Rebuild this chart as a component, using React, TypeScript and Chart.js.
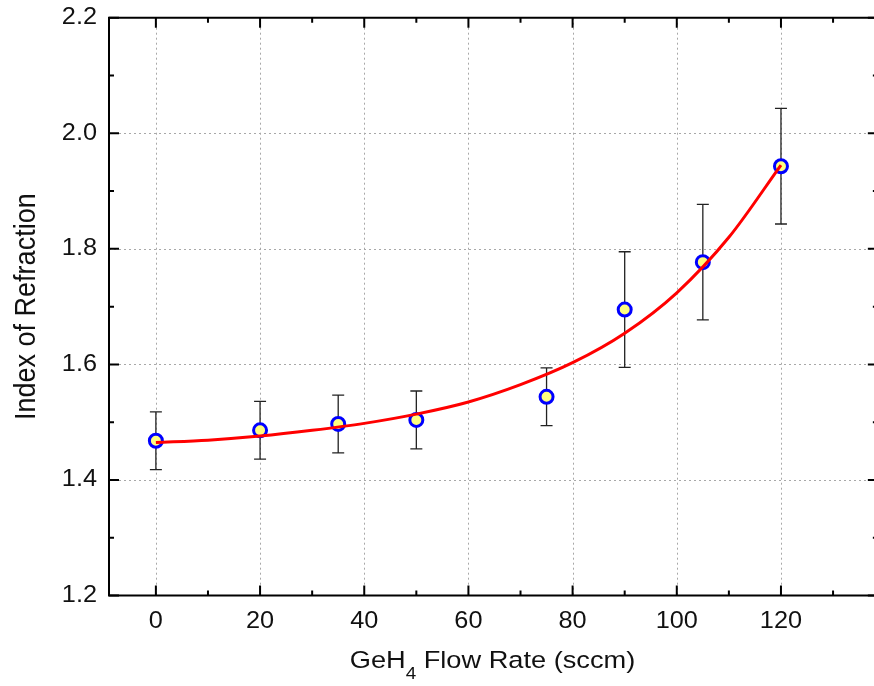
import React, { useEffect, useRef } from "react";
import { Chart, registerables } from "chart.js";
Chart.register(...registerables);

// Measured points (GeH4 flow in sccm vs refractive index) with error bars
const FLOW = [0, 20, 35, 50, 75, 90, 105, 120];
const INDEX = [1.468, 1.486, 1.497, 1.504, 1.544, 1.695, 1.777, 1.943];
const ERR = [0.05, 0.05, 0.05, 0.05, 0.05, 0.1, 0.1, 0.1];

// Fitted curve
const FIT_X = [0, 10, 20, 30, 40, 50, 60, 70, 80, 90, 100, 110, 120];
const FIT_Y = [1.465, 1.469, 1.476, 1.486, 1.498, 1.514, 1.535, 1.565, 1.603, 1.654, 1.724, 1.82, 1.945];

const X_TICKS = [0, 20, 40, 60, 80, 100, 120];
const X_MINOR = [10, 30, 50, 70, 90, 110, 130];
const Y_TICKS = [1.2, 1.4, 1.6, 1.8, 2.0, 2.2];
const Y_MINOR = [1.3, 1.5, 1.7, 1.9, 2.1];

const X_MIN = -9;
const X_MAX = 137.86;
const X_FRAME_RIGHT = 138.6;
const Y_MIN = 1.2;
const Y_MAX = 2.2;

const X_TITLE_MAIN = "GeH";
const X_TITLE_SUB = "4";
const X_TITLE_REST = " Flow Rate (sccm)";
const Y_TITLE = "Index of Refraction";

const FONT = "'Liberation Sans', Arial, Helvetica, sans-serif";
const STRETCH = 1.1;

const framePlugin = {
  id: "frame",
  beforeDatasetsDraw(chart: any) {
    const { ctx, chartArea: a, scales } = chart;
    const xs = scales.x;
    const ys = scales.y;
    ctx.save();
    // dotted grid
    ctx.strokeStyle = "#a8a8a8";
    ctx.lineWidth = 1;
    ctx.setLineDash([2, 3]);
    for (const v of X_TICKS) {
      const px = Math.round(xs.getPixelForValue(v)) + 0.5;
      ctx.beginPath();
      ctx.moveTo(px, a.top);
      ctx.lineTo(px, a.bottom);
      ctx.stroke();
    }
    for (const v of Y_TICKS) {
      if (v === Y_MIN || v === Y_MAX) continue;
      const py = Math.round(ys.getPixelForValue(v)) + 0.5;
      ctx.beginPath();
      ctx.moveTo(a.left, py);
      ctx.lineTo(a.right, py);
      ctx.stroke();
    }
    ctx.setLineDash([]);
    // error bars
    ctx.strokeStyle = "#222222";
    ctx.lineWidth = 1.3;
    for (let i = 0; i < FLOW.length; i++) {
      const px = xs.getPixelForValue(FLOW[i]);
      const yt = ys.getPixelForValue(INDEX[i] + ERR[i]);
      const yb = ys.getPixelForValue(INDEX[i] - ERR[i]);
      ctx.beginPath();
      ctx.moveTo(px, yt);
      ctx.lineTo(px, yb);
      ctx.moveTo(px - 6, yt);
      ctx.lineTo(px + 6, yt);
      ctx.moveTo(px - 6, yb);
      ctx.lineTo(px + 6, yb);
      ctx.stroke();
    }
    ctx.restore();
  },
  afterDatasetsDraw(chart: any) {
    const { ctx, chartArea: a, scales } = chart;
    const xs = scales.x;
    const ys = scales.y;
    const left = a.left;
    const right = xs.getPixelForValue(X_FRAME_RIGHT);
    const top = ys.getPixelForValue(Y_MAX);
    const bottom = ys.getPixelForValue(Y_MIN);
    ctx.save();
    ctx.strokeStyle = "#000";
    ctx.lineWidth = 2;
    ctx.beginPath();
    ctx.rect(left, top, right - left, bottom - top);
    ctx.stroke();
    const MAJ = 10;
    const MIN = 5;
    ctx.beginPath();
    for (const v of X_TICKS) {
      const px = xs.getPixelForValue(v);
      ctx.moveTo(px, bottom);
      ctx.lineTo(px, bottom - MAJ);
      ctx.moveTo(px, top);
      ctx.lineTo(px, top + MAJ);
    }
    for (const v of X_MINOR) {
      const px = xs.getPixelForValue(v);
      ctx.moveTo(px, bottom);
      ctx.lineTo(px, bottom - MIN);
      ctx.moveTo(px, top);
      ctx.lineTo(px, top + MIN);
    }
    for (const v of Y_TICKS) {
      const py = ys.getPixelForValue(v);
      ctx.moveTo(left, py);
      ctx.lineTo(left + MAJ, py);
      ctx.moveTo(right, py);
      ctx.lineTo(right - MAJ, py);
    }
    for (const v of Y_MINOR) {
      const py = ys.getPixelForValue(v);
      ctx.moveTo(left, py);
      ctx.lineTo(left + MIN, py);
      ctx.moveTo(right, py);
      ctx.lineTo(right - MIN, py);
    }
    ctx.stroke();

    ctx.fillStyle = "#111";
    // tick labels
    ctx.font = `23px ${FONT}`;
    ctx.textBaseline = "alphabetic";
    ctx.textAlign = "center";
    for (const v of X_TICKS) {
      const px = xs.getPixelForValue(v);
      ctx.save();
      ctx.translate(px, 628);
      ctx.scale(STRETCH, 1);
      ctx.fillText(String(v), 0, 0);
      ctx.restore();
    }
    ctx.textAlign = "right";
    ctx.textBaseline = "middle";
    for (const v of Y_TICKS) {
      const py = ys.getPixelForValue(v);
      ctx.save();
      ctx.translate(97, py);
      ctx.scale(STRETCH, 1);
      ctx.fillText(v.toFixed(1), 0, 0);
      ctx.restore();
    }

    // y title
    const cy = (top + bottom) / 2;
    ctx.save();
    ctx.translate(35, cy);
    ctx.scale(1.12, 1);
    ctx.rotate(-Math.PI / 2);
    ctx.font = `27px ${FONT}`;
    ctx.textAlign = "center";
    ctx.textBaseline = "alphabetic";
    ctx.fillText(Y_TITLE, 0, 0);
    ctx.restore();

    // x title with subscript
    const mainFont = `24.5px ${FONT}`;
    const subFont = `17px ${FONT}`;
    ctx.font = mainFont;
    const w1 = ctx.measureText(X_TITLE_MAIN).width;
    const w3 = ctx.measureText(X_TITLE_REST).width;
    ctx.font = subFont;
    const w2 = ctx.measureText(X_TITLE_SUB).width;
    const total = w1 + w2 + w3;
    const cx = (a.left + a.right) / 2 + 1;
    ctx.save();
    ctx.translate(cx, 668);
    ctx.scale(1.11, 1);
    let x0 = -total / 2;
    ctx.textAlign = "left";
    ctx.textBaseline = "alphabetic";
    ctx.font = mainFont;
    ctx.fillText(X_TITLE_MAIN, x0, 0);
    x0 += w1;
    ctx.font = subFont;
    ctx.fillText(X_TITLE_SUB, x0, 11);
    x0 += w2;
    ctx.font = mainFont;
    ctx.fillText(X_TITLE_REST, x0, 0);
    ctx.restore();
    ctx.restore();
  },
};

export default function App() {
  const ref = useRef<HTMLCanvasElement | null>(null);
  useEffect(() => {
    if (!ref.current) return;
    const chart = new Chart(ref.current, {
      type: "scatter",
      data: {
        datasets: [
          {
            label: "fit",
            data: FIT_X.map((x, i) => ({ x, y: FIT_Y[i] })),
            showLine: true,
            borderColor: "#ff0000",
            borderWidth: 3,
            pointRadius: 0,
            cubicInterpolationMode: "monotone",
            fill: false,
            clip: false,
            order: 0,
          } as any,
          {
            label: "data",
            data: FLOW.map((x, i) => ({ x, y: INDEX[i] })),
            showLine: false,
            pointRadius: 6.5,
            pointBorderWidth: 3,
            backgroundColor: "#ffff80",
            borderColor: "#0000ff",
            clip: false,
            order: 1,
          } as any,
        ],
      },
      options: {
        responsive: false,
        animation: false,
        layout: { autoPadding: false, padding: { top: 17.7, right: 0, left: 0, bottom: 0 } },
        plugins: { legend: { display: false }, tooltip: { enabled: false } },
        scales: {
          x: {
            type: "linear",
            min: X_MIN,
            max: X_MAX,
            grid: { display: false, drawTicks: false },
            border: { display: false },
            afterBuildTicks: (s: any) => {
              s.ticks = X_TICKS.map((v) => ({ value: v }));
            },
            afterFit: (s: any) => {
              s.height = 90.4;
            },
            ticks: { display: false },
          },
          y: {
            type: "linear",
            min: Y_MIN,
            max: Y_MAX,
            grid: { display: false, drawTicks: false },
            border: { display: false },
            afterBuildTicks: (s: any) => {
              s.ticks = Y_TICKS.map((v) => ({ value: v }));
            },
            afterFit: (s: any) => {
              s.width = 109;
            },
            ticks: { display: false },
          },
        },
      },
      plugins: [framePlugin],
    });
    return () => chart.destroy();
  }, []);
  return (
    <div style={{ position: "fixed", left: 0, top: 0, width: 874, height: 686, background: "#fff" }}>
      <canvas ref={ref} width={874} height={686} style={{ width: 874, height: 686 }} />
    </div>
  );
}
